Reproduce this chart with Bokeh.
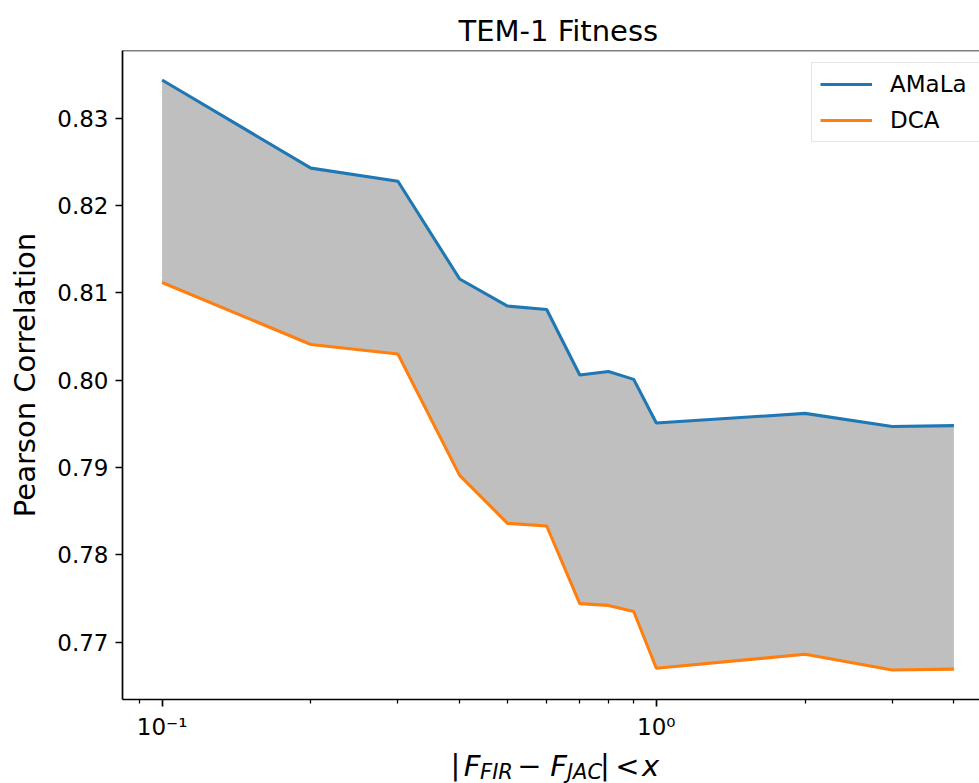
import numpy as np
from bokeh.plotting import figure
from bokeh.layouts import column
from bokeh.models import (Range1d, FixedTicker, Legend, LegendItem, Span,
                          ColumnDataSource)
from bokeh.core.properties import value
from bokeh.embed import file_html
from bokeh.resources import INLINE

# thresholds on |F_FIR - F_JAC| and the Pearson correlation of each model
thresholds = [0.1, 0.2, 0.3, 0.4, 0.5, 0.6, 0.7, 0.8, 0.9, 1.0, 2.0, 3.0, 4.0]
amala = [0.8344, 0.8243, 0.8228, 0.8116, 0.8085, 0.8081, 0.8006, 0.8010,
         0.8001, 0.7951, 0.7962, 0.7947, 0.7948]
dca = [0.8112, 0.8041, 0.8030, 0.7891, 0.7836, 0.7833, 0.7744, 0.7742,
       0.7735, 0.7670, 0.7686, 0.7668, 0.7669]
x_major = [0.1, 1.0]
x_major_labels = ["10\u207b\u00b9", "10\u2070"]
x_minor = [0.09, 0.2, 0.3, 0.4, 0.5, 0.6, 0.7, 0.8, 0.9, 2.0, 3.0, 4.0]
y_ticks = [0.77, 0.78, 0.79, 0.80, 0.81, 0.82, 0.83]
y_tick_labels = ["0.77", "0.78", "0.79", "0.80", "0.81", "0.82", "0.83"]

FONT = "DejaVu Sans"
TICK_PX = "23px"
LABEL_PX = "29px"

src = ColumnDataSource(dict(x=thresholds, amala=amala, dca=dca))

W, H = 979, 783
LABEL_H = 38                      # strip under the plot holding the x label
MAIN_H = H - LABEL_H
LEFT, TOP, BOTTOM = 122, 50, 46
FULL_FRAME_W = 871                # width the padded x span would need

# 5% padding around the data in log-x / linear-y space
lx = np.log10(thresholds)
xpad = 0.05 * (lx.max() - lx.min())
x0 = lx.min() - xpad
x1 = x0 + (lx.max() - lx.min() + 2 * xpad) * (W - LEFT) / FULL_FRAME_W
lo = min(dca)
hi = max(amala)
ypad = 0.05 * (hi - lo)

p = figure(width=W, height=MAIN_H, x_axis_type="log",
           x_range=Range1d(10 ** x0, 10 ** x1),
           y_range=Range1d(lo - ypad, hi + ypad),
           output_backend="svg", toolbar_location=None,
           min_border_left=LEFT, min_border_right=0,
           min_border_top=TOP, min_border_bottom=BOTTOM,
           background_fill_color="white", border_fill_color="white")

p.title.text = "TEM-1 Fitness"
p.title.text_font = FONT
p.title.text_font_size = LABEL_PX
p.title.text_font_style = "normal"
p.title.text_color = "black"
p.title.align = "left"
p.title.offset = 336
p.title.standoff = 6

p.grid.visible = False
p.outline_line_color = None

for ax in (p.xaxis[0], p.yaxis[0]):
    ax.axis_line_width = 1.7
    ax.axis_line_color = "black"
    ax.major_tick_in = 0
    ax.major_tick_out = 7
    ax.major_tick_line_width = 1.7
    ax.minor_tick_in = 0
    ax.minor_tick_out = 4
    ax.minor_tick_line_width = 1.25
    ax.major_label_text_font = FONT
    ax.major_label_text_font_size = TICK_PX
    ax.major_label_text_color = "black"
    ax.major_label_standoff = 7

p.xaxis.ticker = FixedTicker(ticks=x_major, minor_ticks=x_minor)
p.xaxis.major_label_overrides = {t: s for t, s in zip(x_major, x_major_labels)}

p.yaxis.ticker = FixedTicker(ticks=y_ticks)
p.yaxis.major_label_overrides = {t: s for t, s in zip(y_ticks, y_tick_labels)}
p.yaxis.minor_tick_line_color = None
p.yaxis.axis_label = "Pearson Correlation"
p.yaxis.axis_label_text_font = FONT
p.yaxis.axis_label_text_font_size = LABEL_PX
p.yaxis.axis_label_text_font_style = "normal"
p.yaxis.axis_label_text_color = "black"
p.yaxis.axis_label_standoff = 12

# top edge of the axes box
p.add_layout(Span(location=hi + ypad, dimension="width",
                  line_color="black", line_width=1.7))

# shaded gap between the two models
p.varea(x="x", y1="dca", y2="amala", source=src,
        fill_color="#808080", fill_alpha=0.5)
r_amala = p.line("x", "amala", source=src, line_color="#1f77b4", line_width=3.1)
r_dca = p.line("x", "dca", source=src, line_color="#ff7f0e", line_width=3.1)

legend = Legend(items=[LegendItem(label="AMaLa", renderers=[r_amala]),
                       LegendItem(label="DCA", renderers=[r_dca])],
                location=(689, 557),
                padding=8, spacing=10, glyph_width=52, glyph_height=26,
                label_height=26, label_width=81, label_standoff=18,
                label_text_font=FONT, label_text_font_size=TICK_PX,
                label_text_color="black",
                background_fill_color="white", background_fill_alpha=0.8,
                border_line_color="#cccccc", border_line_width=1.5)
p.add_layout(legend)

# x-axis label |F_FIR - F_JAC| < x, set piece by piece in a strip below the
# plot; its frame shares the plot's left/right borders, so its coordinates
# are page pixels (y grows downward)
q = figure(width=W, height=LABEL_H, x_range=Range1d(LEFT, W),
           y_range=Range1d(H, MAIN_H), output_backend="svg",
           toolbar_location=None, title=None,
           x_axis_location=None, y_axis_location=None,
           min_border_left=LEFT, min_border_right=0,
           min_border_top=0, min_border_bottom=0,
           background_fill_color="white", border_fill_color="white")
q.grid.visible = False
q.outline_line_color = None

label_parts = dict(
    text=["|", "F", "FIR", "\u2212", "F", "JAC", "|", "<", "x"],
    x=[455, 471.5, 496, 529, 558, 584, 604.5, 627, 650],
    y=[764, 765, 771, 765, 765, 771, 764, 765, 765],
    style=["normal", "italic", "italic", "normal", "italic", "italic",
           "normal", "normal", "italic"],
    size=["29px", "29px", "21px", "29px", "29px", "21px", "29px", "29px", "29px"],
)
q.text(x="x", y="y", text="text", source=ColumnDataSource(label_parts),
       text_font=value(FONT), text_font_size="size", text_font_style="style",
       text_align="center", text_baseline="middle", text_color="black")

layout = column(p, q, spacing=0)
open("out.html", "w").write(file_html(layout, INLINE))
